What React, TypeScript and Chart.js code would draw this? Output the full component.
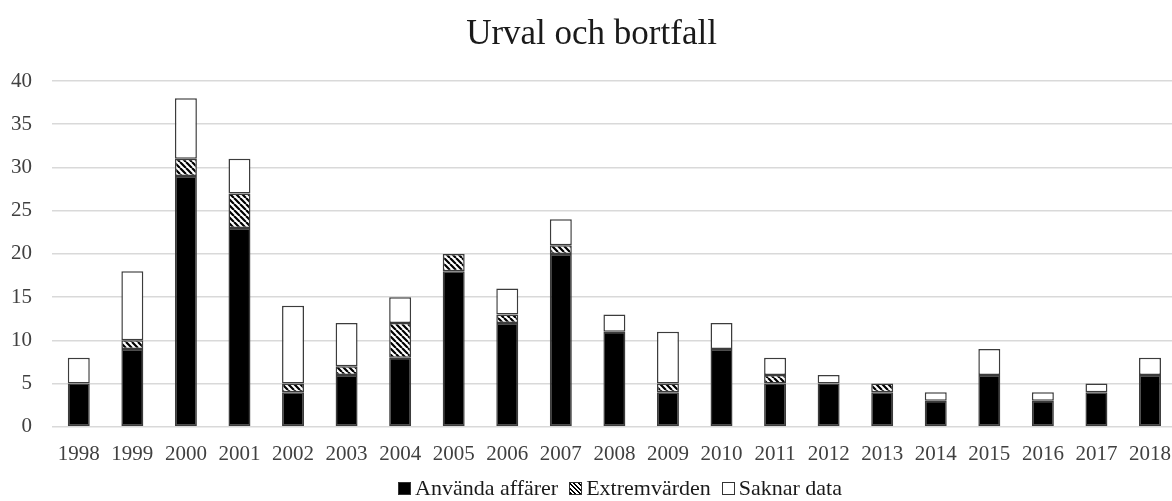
import React, { useEffect, useRef } from "react";
import { Chart, registerables } from "chart.js";

Chart.register(...registerables);

const years = ["1998","1999","2000","2001","2002","2003","2004","2005","2006","2007","2008","2009","2010","2011","2012","2013","2014","2015","2016","2017","2018"];
const anvanda = [5, 9, 29, 23, 4, 6, 8, 18, 12, 20, 11, 4, 9, 5, 5, 4, 3, 6, 3, 4, 6];
const extrem = [0, 1, 2, 4, 1, 1, 4, 2, 1, 1, 0, 1, 0, 1, 0, 1, 0, 0, 0, 0, 0];
const saknar = [3, 8, 7, 4, 9, 5, 3, 0, 3, 3, 2, 6, 3, 2, 1, 0, 1, 3, 1, 1, 2];
const seriesNames = ["Använda affärer", "Extremvärden", "Saknar data"];

const FONT = "'Liberation Serif', 'Times New Roman', serif";
const HATCH_CSS = "repeating-linear-gradient(45deg, #000 0px, #000 1.6px, #fff 1.6px, #fff 3.2px)";

function makeHatch(): CanvasPattern | string {
  const c = document.createElement("canvas");
  const s = 6;
  c.width = s;
  c.height = s;
  const ctx = c.getContext("2d");
  if (!ctx) return "#888";
  ctx.fillStyle = "#ffffff";
  ctx.fillRect(0, 0, s, s);
  ctx.strokeStyle = "#000000";
  ctx.lineWidth = 2.2;
  ctx.beginPath();
  for (let k = -1; k <= 1; k++) {
    ctx.moveTo(k * s, 0);
    ctx.lineTo(k * s + s, s);
  }
  ctx.stroke();
  return ctx.createPattern(c, "repeat") || "#888";
}

const legendFills = ["#000000", HATCH_CSS, "#ffffff"];

const CANVAS_W = 1178;

export default function App() {
  const ref = useRef<HTMLCanvasElement | null>(null);
  useEffect(() => {
    if (!ref.current) return;
    const hatch = makeHatch();
    const common = {
      borderColor: "#3c3c3c",
      borderWidth: 1.5,
      borderSkipped: false as const,
      barPercentage: 0.41,
      categoryPercentage: 1,
    };
    const chart = new Chart(ref.current, {
      type: "bar",
      data: {
        labels: years,
        datasets: [
          { label: seriesNames[0], data: anvanda, backgroundColor: "#000000", ...common },
          { label: seriesNames[1], data: extrem, backgroundColor: hatch as any, ...common },
          { label: seriesNames[2], data: saknar, backgroundColor: "#ffffff", ...common },
        ],
      },
      options: {
        animation: false,
        responsive: false,
        maintainAspectRatio: false,
        layout: { padding: { left: -9, right: -14, top: 0, bottom: 27 } },
        plugins: {
          title: {
            display: true,
            text: "Urval och bortfall",
            color: "#1a1a1a",
            font: { family: FONT, size: 35, weight: "normal" },
            padding: { top: 14, bottom: 25 },
          },
          legend: { display: false },
          tooltip: { enabled: false },
        },
        scales: {
          x: {
            stacked: true,
            grid: { display: false },
            border: { display: false },
            ticks: { color: "#404040", font: { family: FONT, size: 21 }, maxRotation: 0, autoSkip: false, padding: 7 },
          },
          y: {
            stacked: true,
            min: 0,
            max: 40,
            grid: { color: "#d9d9d9", lineWidth: 1.5, drawTicks: false },
            border: { display: false },
            ticks: { stepSize: 5, color: "#404040", font: { family: FONT, size: 21 }, padding: 20 },
          },
        },
      },
    });
    return () => chart.destroy();
  }, []);
  return (
    <div style={{ position: "fixed", left: 0, top: 0, width: 1172, height: 501, background: "#fff", overflow: "hidden" }}>
      <canvas ref={ref} width={CANVAS_W} height={501} style={{ width: CANVAS_W, height: 501, display: "block" }} />
      <div
        style={{
          position: "absolute",
          top: 476,
          left: 68,
          width: 1104,
          height: 24,
          display: "flex",
          justifyContent: "center",
          alignItems: "center",
          fontFamily: FONT,
          fontSize: 22,
          lineHeight: "24px",
          color: "#1a1a1a",
          whiteSpace: "nowrap",
        }}
      >
        {seriesNames.map((name, i) => (
          <div key={name} style={{ display: "flex", alignItems: "center", marginRight: i < seriesNames.length - 1 ? 11 : 0 }}>
            <span
              style={{
                display: "inline-block",
                width: 11,
                height: 11,
                border: "1px solid #333",
                background: legendFills[i],
                marginRight: 4,
              }}
            />
            <span>{name}</span>
          </div>
        ))}
      </div>
    </div>
  );
}
